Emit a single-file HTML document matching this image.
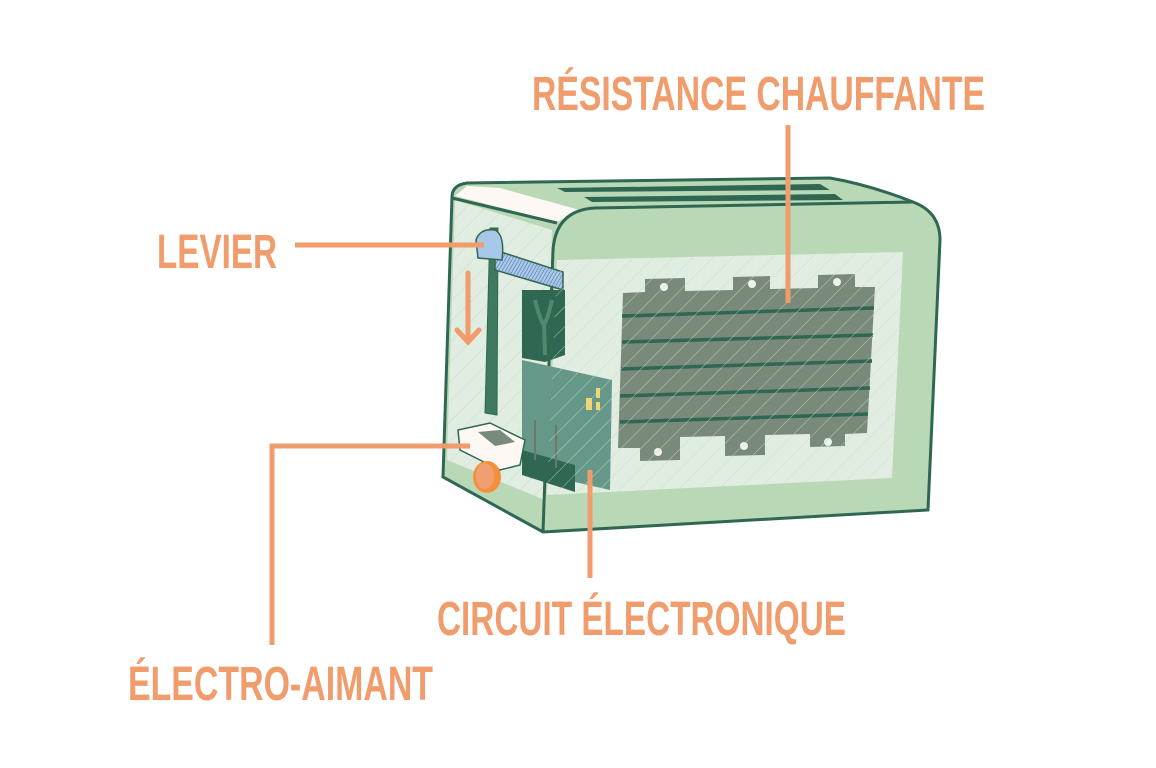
<!DOCTYPE html>
<html><head><meta charset="utf-8"><style>
html,body{margin:0;padding:0;background:#fff;width:1156px;height:768px;overflow:hidden}
text{font-family:"Liberation Sans Narrow","Liberation Sans",sans-serif;font-weight:bold;fill:#F09C6C}
</style></head><body>
<svg width="1156" height="768" viewBox="0 0 1156 768" xmlns="http://www.w3.org/2000/svg">
<defs>
<pattern id="h" width="14" height="14" patternUnits="userSpaceOnUse" patternTransform="rotate(45)">
<line x1="0" y1="0" x2="0" y2="14" stroke="#c8dcc8" stroke-width="1"/></pattern>
<pattern id="b" width="3" height="3" patternUnits="userSpaceOnUse" patternTransform="rotate(30)">
<rect width="3" height="3" fill="#a8c8ea"/>
<line x1="0" y1="0" x2="0" y2="3" stroke="#4a6a9a" stroke-width="1"/></pattern>
</defs>
<path d="M452,197 Q452,185 467,183 L830,178 Q870,185 913,202 Q940,212 940,240 L928,510 L543,532 L443,477 Z" fill="#b9d8b6" stroke="#2f6752" stroke-width="3"/>
<path d="M467,186 L500,188 L580,210 L557,222 L455,196 Z" fill="#fdf8f4"/>
<path d="M557,188 L820,184 L830,190 L565,192 Z" fill="#2f6752"/>
<path d="M584,197 L835,194 L843,200 L592,202 Z" fill="#2f6752"/>
<path d="M455,200 L552,230 L545,500 L447,460 Z" fill="#e0ede0"/>
<path d="M455,200 L552,230 L545,500 L447,460 Z" fill="url(#h)"/>
<path d="M543,532 L553,250 Q556,210 595,208 L913,202" fill="none" stroke="#2f6752" stroke-width="3"/>
<path d="M452,198 L557,223" stroke="#2f6752" stroke-width="3"/>
<path d="M557,260 L903,252 L892,478 L547,495 Z" fill="#e0ede0"/>
<g fill="#7a8a7a">
<path d="M623,293 L645,292 L645,279 L685,278 L685,291 L733,290 L733,277 L770,276 L770,289 L818,288 L818,275 L855,274 L855,287 L875,287 L867,433 L845,434 L845,446 L810,447 L810,434 L765,435 L765,455 L725,456 L725,436 L680,437 L680,460 L640,461 L640,448 L618,448 Z"/>
</g>
<g fill="#eef2ee"><circle cx="664" cy="287" r="4"/><circle cx="752" cy="284" r="4"/><circle cx="837" cy="282" r="4"/><circle cx="658" cy="452" r="4"/><circle cx="744" cy="446" r="4"/><circle cx="828" cy="442" r="4"/></g>
<g stroke="#2f6752" stroke-width="3.5">
<line x1="622" y1="316" x2="874" y2="308"/><line x1="622" y1="342" x2="873" y2="335"/><line x1="621" y1="369" x2="872" y2="361"/><line x1="620" y1="396" x2="870" y2="388"/><line x1="620" y1="422" x2="868" y2="414"/>
</g>
<path d="M490,228 L498,228 L497,415 L485,413 Z" fill="#3f7a60" stroke="#2f6752" stroke-width="1"/>
<path d="M522,360 L612,380 L610,490 L522,470 Z" fill="#66988a"/>
<rect x="586" y="398" width="6" height="12" fill="#f2d770"/><rect x="596" y="388" width="4" height="10" fill="#f2d770"/><rect x="596" y="402" width="4" height="8" fill="#f2d770"/>
<path d="M522,290 L565,290 L565,355 L545,362 L522,358 Z" fill="#2f6752"/>
<path d="M535,300 Q540,320 544,325 Q548,318 552,300" stroke="#4d8a6e" stroke-width="4" fill="none"/>
<line x1="544" y1="325" x2="545" y2="355" stroke="#4d8a6e" stroke-width="4"/>
<path d="M495,250 L563,272 L563,290 L495,270 Z" fill="url(#b)" stroke="#2f6752" stroke-width="1.5"/>
<path d="M476,240 Q480,228 495,230 Q505,235 502,260 L478,258 Z" fill="#a8c8ea" stroke="#2f6752" stroke-width="1.5"/>
<path d="M458,430 L490,423 L525,440 L520,465 L500,470 L460,450 Z" fill="#fdf8f4" stroke="#2f6752" stroke-width="1.5"/>
<path d="M478,432 L500,430 L515,442 L495,446 Z" fill="#7a8a7a"/>
<path d="M522,450 L575,465 L575,492 L522,475 Z" fill="#2f6752"/>
<line x1="535" y1="420" x2="535" y2="460" stroke="#6a7a6a" stroke-width="2"/>
<line x1="556" y1="425" x2="556" y2="468" stroke="#6a7a6a" stroke-width="2"/>
<ellipse cx="487" cy="477" rx="14" ry="16" fill="#f4903a"/>
<ellipse cx="485" cy="476" rx="9" ry="13" fill="#f0a070"/>
<path d="M557,260 L903,252 L892,478 L547,495 Z" fill="url(#h)" opacity="0.8"/>
<g stroke="#F09C6C" stroke-width="5" stroke-linecap="round" fill="none">
<line x1="468" y1="273" x2="468" y2="340"/><path d="M457,330 L468,342 L479,330"/>
</g>
<g stroke="#F09C6C" stroke-width="5" fill="none">
<line x1="295" y1="245" x2="484" y2="245"/>
<line x1="788" y1="125" x2="788" y2="303"/>
<path d="M272,645 L272,446 L470,446"/>
<line x1="590" y1="470" x2="590" y2="578"/>
</g>
<text x="157" y="268" font-size="48" textLength="120" lengthAdjust="spacingAndGlyphs">LEVIER</text>
<text x="532" y="110" font-size="48" textLength="453" lengthAdjust="spacingAndGlyphs">RÉSISTANCE CHAUFFANTE</text>
<text x="437" y="635" font-size="48" textLength="409" lengthAdjust="spacingAndGlyphs">CIRCUIT ÉLECTRONIQUE</text>
<text x="128" y="700" font-size="48" textLength="305" lengthAdjust="spacingAndGlyphs">ÉLECTRO-AIMANT</text>
</svg>
</body></html>
